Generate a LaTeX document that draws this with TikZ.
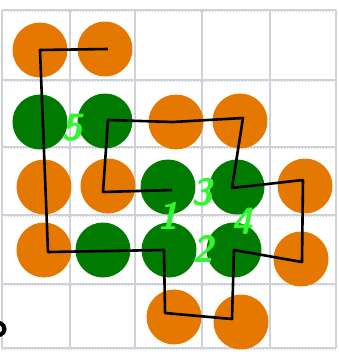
\documentclass[tikz,border=0pt]{standalone}
\usetikzlibrary{calc}
\definecolor{dotorange}{RGB}{228,120,0}
\definecolor{dotgreen}{RGB}{0,122,0}
\definecolor{numgreen}{RGB}{50,245,50}
\definecolor{gridblue}{RGB}{185,210,250}
\begin{document}
\begin{tikzpicture}[x=1pt,y=-1pt,
    orangedot/.style={circle,fill=dotorange,minimum size=55pt,inner sep=0pt},
    greendot/.style={circle,fill=dotgreen,minimum size=55pt,inner sep=0pt},
    num/.style={text=numgreen,font=\sffamily\bfseries\slshape\fontsize{38}{38}\selectfont,inner sep=0pt}]
    \useasboundingbox (0,0) rectangle (339,360);

    % grid
    \foreach \x in {2,70,135,202,270,336}
        \draw[gray!35, line width=1.5pt] (\x,10) -- (\x,348);
    \foreach \y in {10,80,147,215,284,348}
        \draw[gray!35, line width=1.5pt] (2,\y) -- (336,\y);
    \foreach \x in {3,71,136,203,271,337}
        \draw[gridblue, dotted, line width=1pt] (\x,10) -- (\x,348);
    \foreach \y in {11,81,148,216,285,349}
        \draw[gridblue, dotted, line width=1pt] (2,\y) -- (336,\y);

    \node[orangedot] (c11) at (40,50) {};
    \node[orangedot] (c12) at (105,49) {};

    \node[greendot] (c21) at (40,122) {};
    \node[greendot] (c22) at (105,121) {};
    \node[orangedot] (c23) at (176,122) {};
    \node[orangedot] (c24) at (240,121) {};

    \node[orangedot] (c31) at (44,187) {};
    \node[orangedot] (c32) at (108,186) {};
    \node[greendot] (c33) at (168,187) {};
    \node[greendot] (c34) at (237,187) {};
    \node[orangedot] (c35) at (305,186) {};

    \node[orangedot] (c41) at (44,250) {};
    \node[greendot] (c42) at (103,250) {};
    \node[greendot] (c43) at (169,250) {};
    \node[greendot] (c44) at (234,250) {};
    \node[orangedot] (c45) at (301,259) {};

    \node[orangedot] (c53) at (174,317) {};
    \node[orangedot] (c54) at (241,322) {};

    % path
    \draw[line width=2.6pt, line join=round]
        ($(c12)+(3,0)$) -- (c11.center) -- ($(c41)+(4,2)$) -- ($(c43)+(-5,0)$)
        -- ($(c53)+(-9,-4)$) -- ($(c54)+(-9,-3)$) -- (c44.center) -- ($(c45)+(1,3)$)
        -- ($(c35)+(-2,-6)$) -- ($(c34)+(-5,1)$) -- ($(c24)+(3,-3)$) -- ($(c23)+(-3,0)$)
        -- ($(c22)+(3,-1)$) -- ($(c32)+(-5,6)$) -- ($(c33)+(4,3)$);

    \node[num] (n5) at (72,128) {5};
    \node[num] (n1) at (168,216) {1};
    \node[num] (n3) at (202,192) {3};
    \node[num] (n2) at (203,249) {2};
    \node[num] (n4) at (242,221) {4};

    \draw[line width=4pt, line cap=round] (0,323) .. controls (6,325) and (6,333) .. (0,335);
\end{tikzpicture}
\end{document}
